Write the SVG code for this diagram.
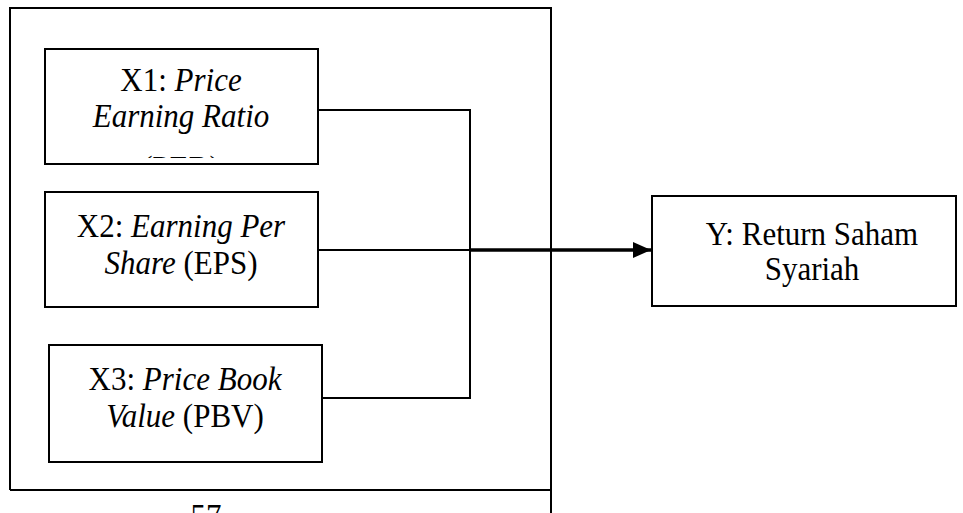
<svg xmlns="http://www.w3.org/2000/svg" width="963" height="513" viewBox="0 0 963 513">
<style>
.box{fill:#fff;stroke:#000;stroke-width:2}
.ln{fill:none;stroke:#000;stroke-width:2}
.t{font-family:'Liberation Serif','Times New Roman',Times,serif;font-size:31px;fill:#000;text-anchor:middle}
.i{font-style:italic}
</style>
<defs>
<marker id="arr" viewBox="0 0 18 16" refX="18" refY="8" markerWidth="18" markerHeight="16" markerUnits="userSpaceOnUse" orient="auto">
<path d="M0,0 L18,8 L0,16 z" fill="#000"/>
</marker>
<clipPath id="c1"><rect x="45" y="49" width="273" height="109"/></clipPath>
</defs>
<g id="frame">
<path class="ln" d="M10,490 V8 H551 V513 M10,490 H551"/>
</g>
<g id="connectors">
<path class="ln" d="M318,110 H470 V398 H322"/>
<path class="ln" d="M318,250 H470"/>
<path d="M470,250 H651" stroke="#000" stroke-width="3.5" marker-end="url(#arr)"/>
</g>
<g id="x1" class="t">
<rect class="box" x="45" y="49" width="273" height="115"/>
<text transform="translate(181 91) scale(1 1.1)">X1: <tspan class="i">Price</tspan></text>
<text transform="translate(181 127) scale(1 1.1)" class="i">Earning Ratio</text>
<g clip-path="url(#c1)"><text transform="translate(181 179) scale(1 1.1)">(PER)</text></g>
</g>
<g id="x2" class="t">
<rect class="box" x="45" y="192" width="273" height="115"/>
<text transform="translate(181 237) scale(1 1.1)">X2: <tspan class="i">Earning Per</tspan></text>
<text transform="translate(181 274) scale(1 1.1)"><tspan class="i">Share</tspan> (EPS)</text>
</g>
<g id="x3" class="t">
<rect class="box" x="49" y="345" width="273" height="117"/>
<text transform="translate(185 390) scale(1 1.1)">X3: <tspan class="i">Price Book</tspan></text>
<text transform="translate(185 427) scale(1 1.1)"><tspan class="i">Value</tspan> (PBV)</text>
</g>
<g id="y" class="t">
<rect class="box" x="652" y="196" width="304" height="110"/>
<text transform="translate(812 245) scale(1 1.1)">Y: Return Saham</text>
<text transform="translate(812 280) scale(1 1.1)">Syariah</text>
</g>
<g id="page" class="t">
<text transform="translate(206 527) scale(1 1.1)">57</text>
</g>
</svg>
